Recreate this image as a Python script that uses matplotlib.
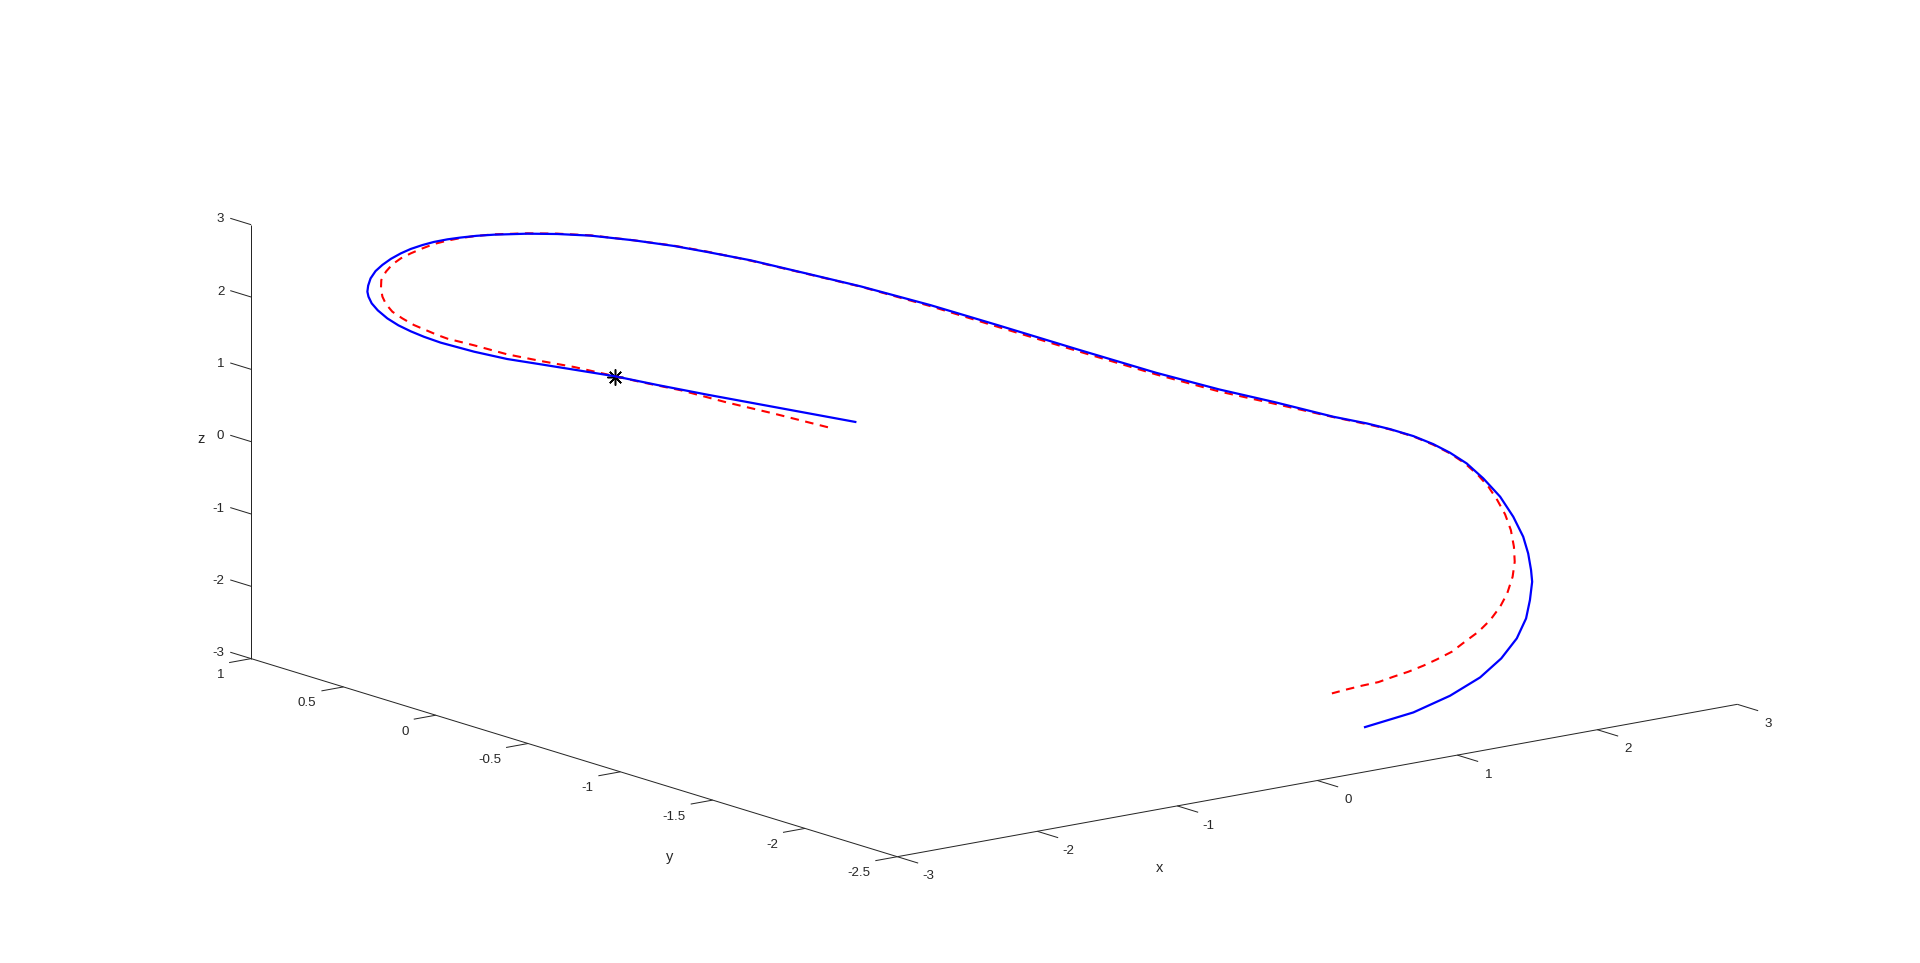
import matplotlib
matplotlib.use("Agg")
import matplotlib.pyplot as plt
from mpl_toolkits.mplot3d import proj3d

blue_x=[-0.756,-1.035,-1.265,-1.436,-1.581,-1.722,-1.837,-1.952,-2.065,-2.180,-2.237,-2.283,-2.325,-2.363,-2.396,-2.417,-2.428,-2.432,-2.429,-2.421,-2.404,-2.380,-2.351,-2.317,-2.283,-2.242,-2.203,-2.157,-2.112,-2.057,-1.997,-1.882,-1.779,-1.665,-1.517,-1.379,-1.265,-1.116,-0.922,-0.739,-0.497,-0.266,0.005,0.278,0.494,0.684,0.886,1.001,1.081,1.161,1.229,1.287,1.344,1.401,1.459,1.504,1.538,1.555,1.565,1.569,1.561,1.548,1.516,1.463,1.390,1.287,1.161,0.995]
blue_y=[-0.571,-0.342,-0.154,-0.014,0.105,0.220,0.314,0.408,0.501,0.595,
0.642,0.679,0.714,0.745,0.772,0.789,0.798,0.801,0.799,0.792,0.778,0.759,0.735,0.707,0.679,0.646,0.614,0.576,0.539,0.494,
0.445,0.351,0.267,0.173,0.052,-0.061,-0.154,-0.276,-0.435,-0.585,-0.783,-0.972,-1.194,-1.417,-1.594,-1.750,-1.915,-2.009,-2.075,-2.140,-2.196,-2.243,-2.290,-2.337,-2.384,-2.421,-2.449,-2.463,-2.471,-2.474,-2.468,-2.457,-2.431,-2.387,-2.328,-2.243,-2.140,-2.004]
blue_z=[0.714,0.840,0.944,1.028,1.106,1.157,1.198,1.238,1.306,1.398,
1.462,1.525,1.595,1.680,1.782,1.873,1.962,2.030,2.114,2.217,2.323,2.415,2.507,2.593,2.664,2.730,2.784,2.833,2.871,2.911,
2.944,2.991,3.016,3.027,3.005,2.967,2.917,2.845,2.717,2.595,2.403,2.193,1.940,1.692,1.525,1.405,1.261,1.202,1.146,1.073,0.982,0.879,0.748,0.557,0.321,0.057,-0.209,-0.435,-0.662,-0.823,-1.078,-1.336,-1.621,-1.914,-2.197,-2.481,-2.748,-2.999]
red_x=[-0.850,-1.035,-1.195,-1.355,-1.494,-1.722,-1.837,-1.952,-2.065,-2.157,-2.191,-2.231,-2.272,-2.312,-2.346,-2.368,-2.380,-2.385,-2.384,-2.368,-2.346,-2.317,-2.283,-2.242,-2.203,-2.157,-2.112,-2.057,-1.997,-1.882,-1.779,-1.665,-1.517,-1.379,-1.265,-1.116,-0.922,-0.739,-0.497,-0.266,0.005,0.278,0.494,0.684,0.886,1.001,1.081,1.161,1.229,1.287,1.338,1.383,1.419,1.449,1.476,1.496,1.506,1.509,1.502,1.483,1.459,1.425,1.384,1.338,1.293,1.241,1.195,1.144,1.092,1.041,0.984,0.932,0.881]
red_y=[-0.494,-0.342,-0.211,-0.080,0.033,0.220,0.314,0.408,0.501,0.576,
0.604,0.637,0.670,0.703,0.731,0.749,0.759,0.763,0.762,0.749,0.731,0.707,0.679,0.646,0.614,0.576,0.539,0.494,
0.445,0.351,0.267,0.173,0.052,-0.061,-0.154,-0.276,-0.435,-0.585,-0.783,-0.972,-1.194,-1.417,-1.594,-1.750,-1.915,-2.009,-2.075,-2.140,-2.196,-2.243,
-2.285,-2.322,-2.351,-2.376,-2.398,-2.414,-2.423,-2.425,-2.419,
-2.404,-2.384,-2.356,-2.323,-2.285,-2.248,-2.206,-2.168,-2.126,-2.084,-2.042,-1.995,-1.953,-1.911]
red_z=[0.613,0.748,0.854,0.978,1.053,1.194,1.244,1.303,1.394,1.460,
1.500,1.557,1.615,1.696,1.778,1.877,1.976,2.089,2.204,2.325,2.432,2.524,2.603,2.684,2.755,2.816,2.864,2.910,
2.949,2.996,3.021,3.031,3.005,2.971,2.922,2.840,2.713,2.591,2.389,2.170,1.917,1.669,1.497,1.382,1.256,1.192,1.142,1.068,0.973,0.870,
0.747,0.598,0.447,0.272,0.082,-0.130,-0.357,-0.564,-0.773,
-1.009,-1.200,-1.395,-1.568,-1.719,-1.871,-1.992,-2.092,-2.190,-2.274,-2.363,-2.430,-2.496,-2.566]
star_x=[-1.581]
star_y=[0.105]
star_z=[1.101]

x_ticks=[-3,-2,-1,0,1,2,3]
y_ticks=[-2.5,-2,-1.5,-1,-0.5,0,0.5,1]
z_ticks=[-3,-2,-1,0,1,2,3]
x_label,y_label,z_label='x','y','z'

fmt=lambda v:f"{v:g}"
INK=(0.15,0.15,0.15)
plt.rcParams['font.family']=['Liberation Sans','DejaVu Sans']
plt.rcParams['lines.scale_dashes']=False
W,H=1920,963
fig=plt.figure(figsize=(W/100,H/100),dpi=100)
side=1400
ax=fig.add_axes([(W-side)/2/W,(H-side)/2/H,side/W,side/H],projection='3d',proj_type='ortho',computed_zorder=False)
ax.set_axis_off()
ax.set_xticks([]);ax.set_yticks([]);ax.set_zticks([])
ax.set_xlim(-3,3);ax.set_ylim(-2.5,1);ax.set_zlim(-3,3)
ax.set_box_aspect((1060,1060,446.6))
ax.view_init(elev=13.64,azim=232.43,roll=0)
def px(x,y,z):
    a,b,_=proj3d.proj_transform(x,y,z,ax.get_proj())
    return ax.transData.transform((a,b))
# fit the 3D box to the corner positions of the reference
for _ in range(2):
    fig.canvas.draw()
    c0=px(-3,-2.5,-3);c1=px(3,-2.5,-3)
    side*=840/(c1[0]-c0[0])
    ax.set_position([(W-side)/2/W,(H-side)/2/H,side/W,side/H])
    fig.canvas.draw()
    c0=px(-3,-2.5,-3)
    dx=897.3-c0[0];dy=(H-856.7)-c0[1]
    p=ax.get_position(original=True)
    ax.set_position([p.x0+dx/W,p.y0+dy/H,p.width,p.height])
fig.canvas.draw()

def seg(a,b):
    ax.plot([a[0],b[0]],[a[1],b[1]],[a[2],b[2]],color=INK,lw=0.72,solid_capstyle='butt',clip_on=False,zorder=1)
seg((-3,-2.5,-3),(3,-2.5,-3));seg((-3,-2.5,-3),(-3,1,-3));seg((-3,1,-3),(-3,1,3))
TX,TY,TZ=0.113,0.157,0.113
for v in x_ticks:
    seg((v,-2.5,-3),(v,-2.5-TX,-3))
    ax.text(v,-2.5-TX-0.055,-3.14,fmt(v),ha='center',va='center',fontsize=9.6,color=INK)
for v in y_ticks:
    seg((-3,v,-3),(-3-TY,v,-3))
    ax.text(-3-TY-0.036,v,-3.16,fmt(v),ha='right',va='center',fontsize=9.6,color=INK)
for v in z_ticks:
    seg((-3,1,v),(-3,1+TZ,v))
    ax.text(-3,1+TZ+0.032,v-0.04,fmt(v),ha='right',va='center',fontsize=9.6,color=INK)
ax.text(-1.324,-2.65,-3.634,x_label,ha='center',va='center',fontsize=10.5,color=INK)
ax.text(-3.2,-1.42,-3.786,y_label,ha='center',va='center',fontsize=10.5,color=INK)
ax.text(-3,1.27,-0.18,z_label,ha='center',va='center',rotation=90,fontsize=10.5,color=INK)

ax.plot(star_x,star_y,star_z,ls='none',marker=(8,2,0),ms=11.5,mew=1.1,color='k',zorder=2,clip_on=False)
ax.plot(red_x,red_y,red_z,color=(1,0,0),lw=1.5,ls=(0,(6.1,4.7)),dash_capstyle='butt',zorder=3,clip_on=False)
ax.plot(blue_x,blue_y,blue_z,color=(0,0,1),lw=1.6,zorder=4,clip_on=False)
fig.savefig("out.png",dpi=100,facecolor='white')
